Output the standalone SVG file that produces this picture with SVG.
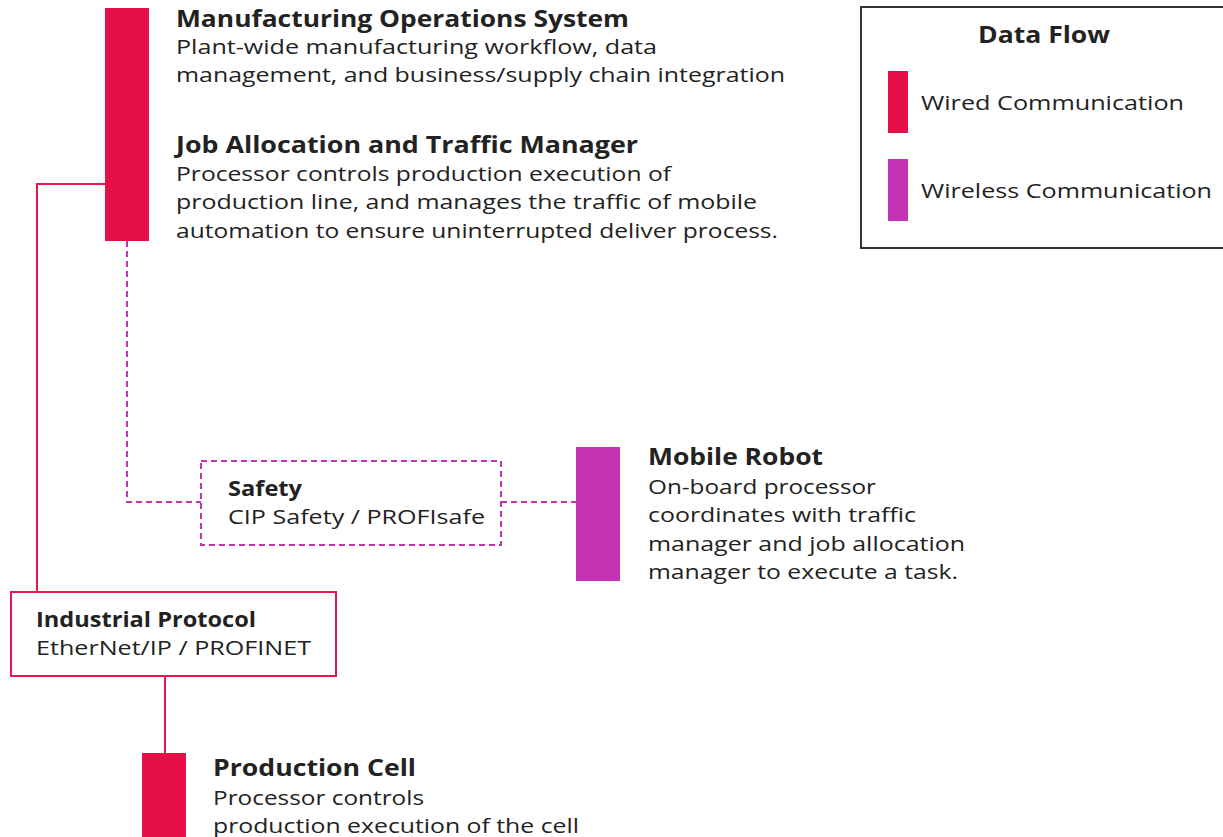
<svg xmlns="http://www.w3.org/2000/svg" width="1223" height="837" viewBox="0 0 1223 837">
<style>
.t{font-family:"Open Sans","Liberation Sans",sans-serif;font-weight:700;font-size:23px;fill:#222}
.b{font-family:"Open Sans","Liberation Sans",sans-serif;font-size:20.5px;fill:#222}
.wired{fill:#E60F47}
.wireless{fill:#C433B4}
.wl{fill:none;stroke:#E8164C;stroke-width:2}
.dl{fill:none;stroke:#C433B4;stroke-width:2;stroke-dasharray:6 4}
</style>
<rect width="1223" height="837" fill="#fff"/>
<g id="connectors">
<polyline class="wl" points="105,184 37,184 37,592"/>
<line class="wl" x1="165" y1="676" x2="165" y2="753"/>
<polyline class="dl" points="127,241 127,502 201,502"/>
<line class="dl" x1="501" y1="502" x2="576" y2="502"/>
</g>
<g id="mos">
<rect class="wired" x="105" y="8" width="44" height="233"/>
<text class="t" x="176" y="27" textLength="453" lengthAdjust="spacingAndGlyphs">Manufacturing Operations System</text>
<text class="b" x="176" y="54" textLength="481" lengthAdjust="spacingAndGlyphs">Plant-wide manufacturing workflow, data</text>
<text class="b" x="176" y="82" textLength="609" lengthAdjust="spacingAndGlyphs">management, and business/supply chain integration</text>
</g>
<g id="jatm">
<text class="t" x="176" y="153" textLength="462" lengthAdjust="spacingAndGlyphs">Job Allocation and Traffic Manager</text>
<text class="b" x="176" y="181" textLength="495" lengthAdjust="spacingAndGlyphs">Processor controls production execution of</text>
<text class="b" x="176" y="209" textLength="581" lengthAdjust="spacingAndGlyphs">production line, and manages the traffic of mobile</text>
<text class="b" x="176" y="238" textLength="602" lengthAdjust="spacingAndGlyphs">automation to ensure uninterrupted deliver process.</text>
</g>
<g id="safety">
<rect class="dl" x="201" y="461" width="300" height="84"/>
<text class="t" x="228" y="496" style="font-size:20.5px" textLength="74" lengthAdjust="spacingAndGlyphs">Safety</text>
<text class="b" x="228" y="524" textLength="257" lengthAdjust="spacingAndGlyphs">CIP Safety / PROFIsafe</text>
</g>
<g id="mobile-robot">
<rect class="wireless" x="576" y="447" width="44" height="134"/>
<text class="t" x="648" y="465" textLength="175" lengthAdjust="spacingAndGlyphs">Mobile Robot</text>
<text class="b" x="648" y="494" textLength="228" lengthAdjust="spacingAndGlyphs">On-board processor</text>
<text class="b" x="648" y="522" textLength="268" lengthAdjust="spacingAndGlyphs">coordinates with traffic</text>
<text class="b" x="648" y="551" textLength="317" lengthAdjust="spacingAndGlyphs">manager and job allocation</text>
<text class="b" x="648" y="579" textLength="310" lengthAdjust="spacingAndGlyphs">manager to execute a task.</text>
</g>
<g id="industrial-protocol">
<rect class="wl" x="11" y="592" width="325" height="84"/>
<text class="t" x="36" y="627" style="font-size:20.5px" textLength="220" lengthAdjust="spacingAndGlyphs">Industrial Protocol</text>
<text class="b" x="36" y="655" textLength="275" lengthAdjust="spacingAndGlyphs">EtherNet/IP / PROFINET</text>
</g>
<g id="production-cell">
<rect class="wired" x="142" y="753" width="44" height="90"/>
<text class="t" x="213" y="776" textLength="203" lengthAdjust="spacingAndGlyphs">Production Cell</text>
<text class="b" x="213" y="805" textLength="211" lengthAdjust="spacingAndGlyphs">Processor controls</text>
<text class="b" x="213" y="833" textLength="366" lengthAdjust="spacingAndGlyphs">production execution of the cell</text>
</g>
<g id="legend">
<rect x="861" y="7" width="370" height="241" fill="none" stroke="#333" stroke-width="2"/>
<text class="t" x="978" y="43" textLength="132" lengthAdjust="spacingAndGlyphs">Data Flow</text>
<rect class="wired" x="888" y="71" width="20" height="62"/>
<text class="b" x="921" y="110" textLength="263" lengthAdjust="spacingAndGlyphs">Wired Communication</text>
<rect class="wireless" x="888" y="159" width="20" height="62"/>
<text class="b" x="921" y="198" textLength="291" lengthAdjust="spacingAndGlyphs">Wireless Communication</text>
</g>
</svg>
